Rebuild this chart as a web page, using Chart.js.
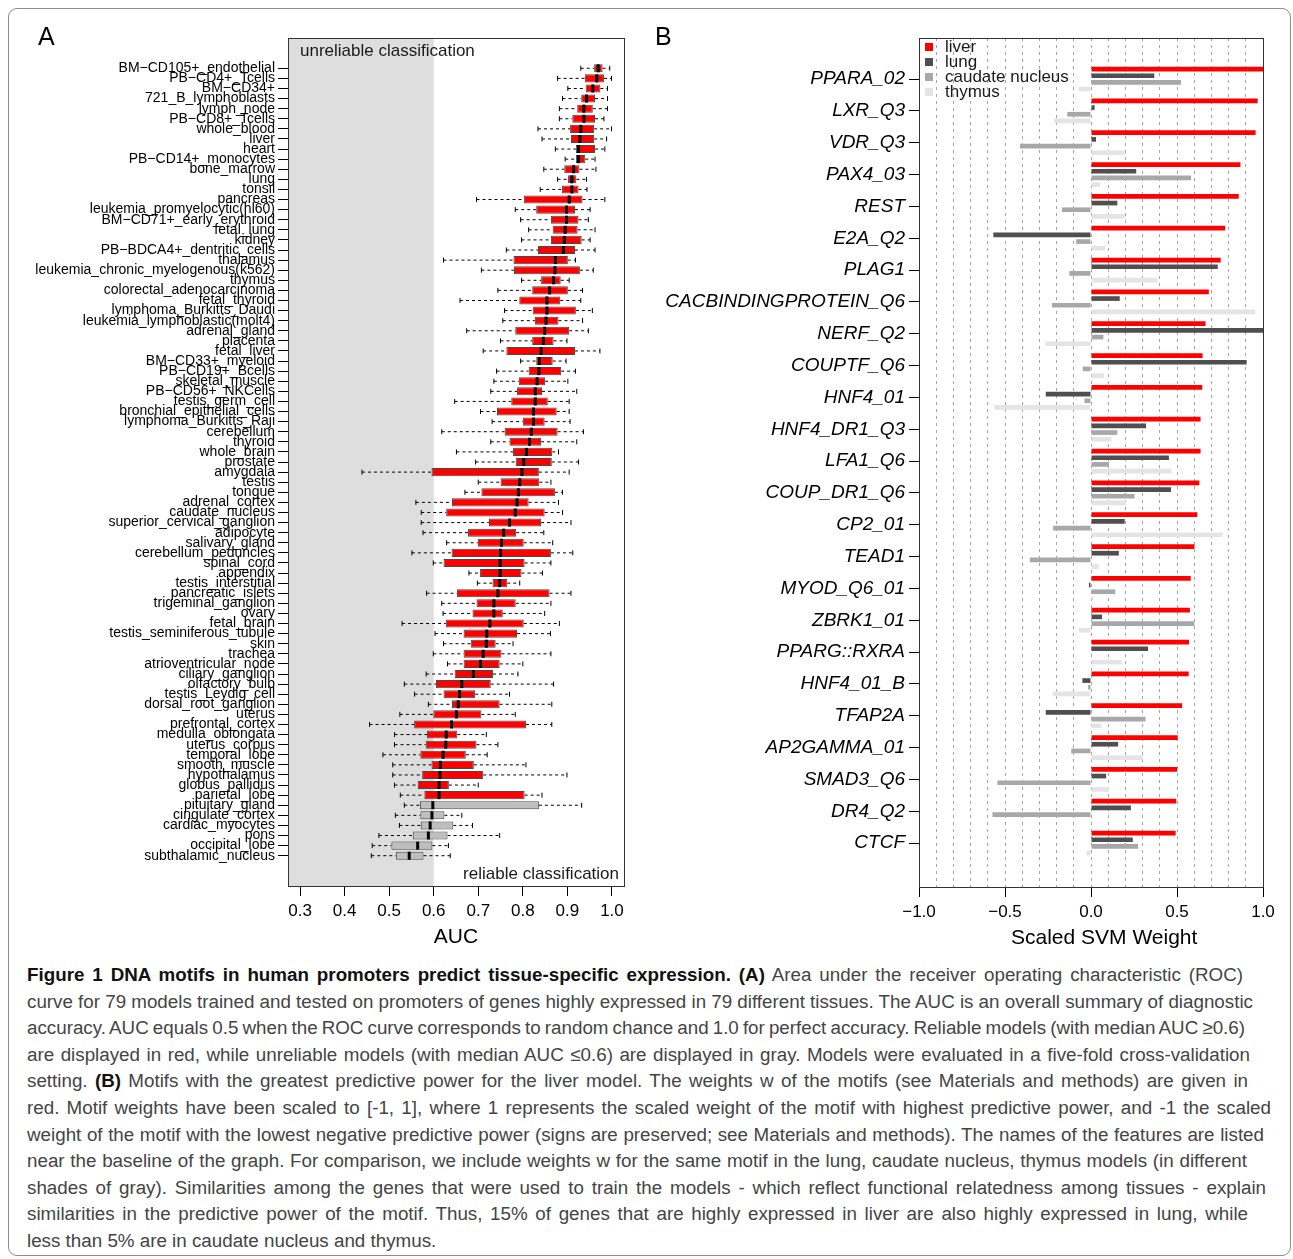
<!DOCTYPE html>
<html>
<head>
<meta charset="utf-8">
<script src="https://cdn.jsdelivr.net/npm/chart.js@4.4.0/dist/chart.umd.min.js"></script>
<style>
  body { margin: 0; background: #fff; width: 1293px; height: 1259px; position: relative; overflow: hidden;
         font-family: "Liberation Sans", Arial, sans-serif; }
  .frame { position: absolute; left: 8px; top: 8px; width: 1283px; height: 1248px; border: 1px solid #8c8c8c;
           border-radius: 9px; box-sizing: border-box; }
  .panel { position: absolute; top: 0; width: 640px; height: 950px; }
  #boxWrap { left: 0; }
  #barWrap { left: 650px; }
  .tag { position: absolute; font-size: 25px; color: #000; }
  .xtitle { position: absolute; font-size: 21px; color: #000; white-space: nowrap; }
  .caption { position: absolute; left: 27px; top: 962px; font-family: "Liberation Sans", Arial, sans-serif;
             font-size: 18.8px; line-height: 26.6px; color: #444; }
  .caption div { white-space: nowrap; }
  .caption span.line { display: inline-block; }
  .caption b { color: #111; }
</style>
</head>
<body>
<div class="frame"></div>
<div class="panel" id="boxWrap"><canvas id="auc-chart"></canvas></div>
<div class="panel" id="barWrap"><canvas id="svm-chart"></canvas></div>
<div class="tag" style="left:38px; top:22px;">A</div>
<div class="tag" style="left:655px; top:22px;">B</div>
<div class="xtitle" style="left:1011px; top:925px;">Scaled SVM Weight</div>
<div class="caption" id="caption">
  <div><span class="line" data-right="1243"><b>Figure 1 DNA motifs in human promoters predict tissue-specific expression. (A)</b> Area under the receiver operating characteristic (ROC)</span></div>
  <div><span class="line" data-right="1253">curve for 79 models trained and tested on promoters of genes highly expressed in 79 different tissues. The AUC is an overall summary of diagnostic</span></div>
  <div><span class="line" data-right="1245">accuracy. AUC equals 0.5 when the ROC curve corresponds to random chance and 1.0 for perfect accuracy. Reliable models (with median AUC ≥0.6)</span></div>
  <div><span class="line" data-right="1250">are displayed in red, while unreliable models (with median AUC ≤0.6) are displayed in gray. Models were evaluated in a five-fold cross-validation</span></div>
  <div><span class="line" data-right="1248">setting. <b>(B)</b> Motifs with the greatest predictive power for the liver model. The weights w of the motifs (see Materials and methods) are given in</span></div>
  <div><span class="line" data-right="1271">red. Motif weights have been scaled to [-1, 1], where 1 represents the scaled weight of the motif with highest predictive power, and -1 the scaled</span></div>
  <div><span class="line" data-right="1264">weight of the motif with the lowest negative predictive power (signs are preserved; see Materials and methods). The names of the features are listed</span></div>
  <div><span class="line" data-right="1247">near the baseline of the graph. For comparison, we include weights w for the same motif in the lung, caudate nucleus, thymus models (in different</span></div>
  <div><span class="line" data-right="1266">shades of gray). Similarities among the genes that were used to train the models - which reflect functional relatedness among tissues - explain</span></div>
  <div><span class="line" data-right="1248">similarities in the predictive power of the motif. Thus, 15% of genes that are highly expressed in liver are also highly expressed in lung, while</span></div>
  <div><span class="line">less than 5% are in caudate nucleus and thymus.</span></div>
</div>
<script>
// panel A: AUC per tissue model (five-fold CV boxplots)
const tissues = [
  'BM−CD105+_endothelial', 'PB−CD4+_Tcells', 'BM−CD34+', '721_B_lymphoblasts', 'lymph_node',
  'PB−CD8+_Tcells', 'whole_blood', 'liver', 'heart', 'PB−CD14+_monocytes',
  'bone_marrow', 'lung', 'tonsil', 'pancreas', 'leukemia_promyelocytic(hl60)',
  'BM−CD71+_early_erythroid', 'fetal_lung', 'kidney', 'PB−BDCA4+_dentritic_cells', 'thalamus',
  'leukemia_chronic_myelogenous(k562)', 'thymus', 'colorectal_adenocarcinoma', 'fetal_thyroid', 'lymphoma_Burkitts_Daudi',
  'leukemia_lymphoblastic(molt4)', 'adrenal_gland', 'placenta', 'fetal_liver', 'BM−CD33+_myeloid',
  'PB−CD19+_Bcells', 'skeletal_muscle', 'PB−CD56+_NKCells', 'testis_germ_cell', 'bronchial_epithelial_cells',
  'lymphoma_Burkitts_Raji', 'cerebellum', 'thyroid', 'whole_brain', 'prostate',
  'amygdala', 'testis', 'tongue', 'adrenal_cortex', 'caudate_nucleus',
  'superior_cervical_ganglion', 'adipocyte', 'salivary_gland', 'cerebellum_peduncles', 'spinal_cord',
  'appendix', 'testis_interstitial', 'pancreatic_islets', 'trigeminal_ganglion', 'ovary',
  'fetal_brain', 'testis_seminiferous_tubule', 'skin', 'trachea', 'atrioventricular_node',
  'ciliary_ganglion', 'olfactory_bulb', 'testis_Leydig_cell', 'dorsal_root_ganglion', 'uterus',
  'prefrontal_cortex', 'medulla_oblongata', 'uterus_corpus', 'temporal_lobe', 'smooth_muscle',
  'hypothalamus', 'globus_pallidus', 'parietal_lobe', 'pituitary_gland', 'cingulate_cortex',
  'cardiac_myocytes', 'pons', 'occipital_lobe', 'subthalamic_nucleus'
];
const aucMin = [
  0.930, 0.878, 0.901, 0.889, 0.882, 0.882, 0.834, 0.843, 0.873, 0.895,
  0.847, 0.878, 0.839, 0.696, 0.783, 0.795, 0.813, 0.797, 0.763, 0.622,
  0.707, 0.797, 0.744, 0.659, 0.759, 0.755, 0.674, 0.750, 0.711, 0.795,
  0.741, 0.735, 0.728, 0.647, 0.705, 0.731, 0.618, 0.728, 0.651, 0.694,
  0.439, 0.700, 0.670, 0.560, 0.572, 0.572, 0.576, 0.629, 0.551, 0.599,
  0.679, 0.698, 0.584, 0.618, 0.621, 0.529, 0.603, 0.622, 0.599, 0.631,
  0.583, 0.534, 0.557, 0.588, 0.524, 0.456, 0.512, 0.512, 0.486, 0.508,
  0.508, 0.512, 0.525, 0.534, 0.514, 0.523, 0.477, 0.462, 0.460
];
const aucQ1 = [
  0.960, 0.939, 0.941, 0.931, 0.922, 0.911, 0.906, 0.908, 0.919, 0.919,
  0.893, 0.901, 0.888, 0.802, 0.830, 0.863, 0.867, 0.863, 0.834, 0.779,
  0.780, 0.841, 0.821, 0.792, 0.822, 0.827, 0.783, 0.821, 0.763, 0.830,
  0.813, 0.791, 0.787, 0.774, 0.742, 0.800, 0.759, 0.770, 0.778, 0.784,
  0.595, 0.750, 0.707, 0.641, 0.628, 0.724, 0.677, 0.699, 0.640, 0.622,
  0.704, 0.732, 0.652, 0.696, 0.687, 0.627, 0.667, 0.683, 0.667, 0.667,
  0.647, 0.605, 0.622, 0.641, 0.599, 0.556, 0.585, 0.582, 0.570, 0.595,
  0.574, 0.564, 0.579, 0.569, 0.570, 0.571, 0.553, 0.505, 0.515
];
const aucMedian = [
  0.969, 0.966, 0.957, 0.943, 0.937, 0.937, 0.930, 0.928, 0.925, 0.925,
  0.914, 0.910, 0.910, 0.904, 0.898, 0.898, 0.895, 0.893, 0.891, 0.873,
  0.872, 0.869, 0.860, 0.854, 0.854, 0.852, 0.849, 0.846, 0.841, 0.837,
  0.836, 0.832, 0.828, 0.828, 0.824, 0.824, 0.819, 0.815, 0.808, 0.802,
  0.798, 0.793, 0.790, 0.787, 0.783, 0.770, 0.757, 0.752, 0.750, 0.749,
  0.749, 0.748, 0.744, 0.735, 0.735, 0.726, 0.719, 0.718, 0.711, 0.705,
  0.689, 0.663, 0.658, 0.655, 0.651, 0.640, 0.628, 0.627, 0.621, 0.615,
  0.614, 0.612, 0.612, 0.598, 0.596, 0.592, 0.588, 0.564, 0.545
];
const aucQ3 = [
  0.979, 0.982, 0.974, 0.962, 0.957, 0.962, 0.960, 0.960, 0.962, 0.940,
  0.927, 0.920, 0.925, 0.934, 0.917, 0.925, 0.923, 0.932, 0.917, 0.901,
  0.928, 0.885, 0.901, 0.884, 0.919, 0.880, 0.904, 0.869, 0.917, 0.867,
  0.886, 0.850, 0.843, 0.856, 0.876, 0.849, 0.878, 0.841, 0.866, 0.865,
  0.836, 0.837, 0.872, 0.813, 0.849, 0.841, 0.785, 0.802, 0.863, 0.804,
  0.797, 0.765, 0.860, 0.784, 0.755, 0.802, 0.787, 0.739, 0.752, 0.748,
  0.733, 0.728, 0.693, 0.748, 0.707, 0.807, 0.653, 0.696, 0.672, 0.690,
  0.711, 0.634, 0.804, 0.836, 0.624, 0.644, 0.631, 0.597, 0.577
];
const aucMax = [
  0.995, 0.999, 0.990, 0.990, 0.990, 0.982, 0.999, 0.988, 0.984, 0.962,
  0.964, 0.943, 0.944, 0.984, 0.951, 0.947, 0.962, 0.951, 0.962, 0.918,
  0.958, 0.904, 0.934, 0.930, 0.956, 0.934, 0.947, 0.899, 0.973, 0.897,
  0.918, 0.901, 0.921, 0.904, 0.904, 0.906, 0.936, 0.921, 0.880, 0.925,
  0.904, 0.863, 0.889, 0.880, 0.889, 0.908, 0.847, 0.867, 0.912, 0.863,
  0.844, 0.793, 0.908, 0.863, 0.849, 0.882, 0.862, 0.778, 0.863, 0.800,
  0.789, 0.869, 0.770, 0.865, 0.783, 0.865, 0.718, 0.744, 0.720, 0.807,
  0.899, 0.700, 0.843, 0.932, 0.663, 0.687, 0.748, 0.633, 0.637
];
const aucTicks = [0.3, 0.4, 0.5, 0.6, 0.7, 0.8, 0.9, 1.0];
const reliableCut = 0.6;

// panel B: scaled SVM weights of top liver motifs
const motifs = [
  'PPARA_02', 'LXR_Q3', 'VDR_Q3', 'PAX4_03', 'REST', 'E2A_Q2', 'PLAG1', 'CACBINDINGPROTEIN_Q6',
  'NERF_Q2', 'COUPTF_Q6', 'HNF4_01', 'HNF4_DR1_Q3', 'LFA1_Q6', 'COUP_DR1_Q6', 'CP2_01', 'TEAD1',
  'MYOD_Q6_01', 'ZBRK1_01', 'PPARG::RXRA', 'HNF4_01_B', 'TFAP2A', 'AP2GAMMA_01', 'SMAD3_Q6', 'DR4_Q2', 'CTCF'
];
const liverWeight = [
  1.000, 0.969, 0.957, 0.869, 0.859, 0.780, 0.754, 0.685, 0.666, 0.649, 0.647, 0.637, 0.637,
  0.630, 0.618, 0.601, 0.580, 0.575, 0.570, 0.568, 0.530, 0.504, 0.501, 0.496, 0.492
];
const lungWeight = [
  0.368, 0.021, 0.029, 0.263, 0.153, -0.568, 0.737, 0.167, 1.000, 0.905, -0.263, 0.320, 0.453,
  0.465, 0.196, 0.162, -0.012, 0.064, 0.332, -0.050, -0.263, 0.158, 0.088, 0.232, 0.243
];
const caudateWeight = [
  0.523, -0.138, -0.413, 0.582, -0.169, -0.086, -0.126, -0.227, 0.072, -0.048, -0.038, 0.153, 0.105,
  0.253, -0.220, -0.356, 0.141, 0.601, 0.000, -0.017, 0.317, -0.115, -0.544, -0.573, 0.274
];
const thymusWeight = [
  -0.072, -0.215, 0.196, 0.053, 0.196, 0.081, 0.387, 0.955, -0.265, 0.076, -0.561, 0.119, 0.468,
  0.203, 0.766, 0.045, 0.014, -0.072, 0.179, -0.222, 0.060, 0.301, 0.105, 0.000, -0.026
];
const svmTicks = [-1.0, -0.5, 0.0, 0.5, 1.0];

Chart.defaults.font.family = '"Liberation Sans", Arial, sans-serif';
Chart.defaults.color = '#000';
Chart.defaults.animation = false;

const FONT = '"Liberation Sans", Arial, sans-serif';
const CLEAR = 'rgba(0,0,0,0)';

function near(v, list) {
  return list.some(t => Math.abs(t - v) < 1e-6);
}

// box around the plotting region, like R's bty="o"
const framePlugin = {
  id: 'frame',
  afterDraw(chart) {
    const {ctx, chartArea: a} = chart;
    ctx.save();
    ctx.strokeStyle = '#333';
    ctx.lineWidth = 1;
    ctx.strokeRect(Math.round(a.left) + 0.5, Math.round(a.top) + 0.5,
                   Math.round(a.right - a.left), Math.round(a.bottom - a.top));
    ctx.restore();
  }
};

// grey band for the unreliable region and its two notes
const shadePlugin = {
  id: 'shade',
  beforeDatasetsDraw(chart) {
    const {ctx, chartArea: a, scales: {x}} = chart;
    const edge = x.getPixelForValue(reliableCut);
    ctx.save();
    ctx.fillStyle = '#dedede';
    ctx.fillRect(a.left, a.top, edge - a.left, a.bottom - a.top);
    ctx.fillStyle = '#1a1a1a';
    ctx.font = '17px ' + FONT;
    ctx.textBaseline = 'middle';
    ctx.fillText('unreliable classification', a.left + 12, a.top + 13);
    ctx.textAlign = 'right';
    ctx.fillText('reliable classification', a.right - 5, a.bottom - 12);
    ctx.restore();
  }
};

// legend drawn inside the top-left corner of the plot
const cornerLegend = {
  id: 'cornerLegend',
  afterDatasetsDraw(chart) {
    const {ctx, chartArea: a} = chart;
    ctx.save();
    ctx.font = '17px ' + FONT;
    ctx.textBaseline = 'middle';
    chart.data.datasets.forEach((ds, i) => {
      const y = a.top + 9 + i * 15;
      ctx.fillStyle = ds.backgroundColor;
      ctx.fillRect(a.left + 6, y - 4, 8, 8);
      ctx.fillStyle = '#1a1a1a';
      ctx.fillText(ds.label, a.left + 26, y);
    });
    ctx.restore();
  }
};

function buildAucChart() {
  const rows = tissues.map((_, i) => i);
  const boxes = rows.map(i => ({x: [aucQ1[i], aucQ3[i]], y: i}));
  const boxColors = rows.map(i => aucMedian[i] > reliableCut ? '#ff0000' : '#bebebe');
  const whiskers = [];
  rows.forEach(i => {
    whiskers.push({x: aucMin[i], y: i}, {x: aucQ1[i], y: i}, {x: null, y: null},
                  {x: aucQ3[i], y: i}, {x: aucMax[i], y: i}, {x: null, y: null});
  });
  const caps = [];
  rows.forEach(i => { caps.push({x: aucMin[i], y: i}, {x: aucMax[i], y: i}); });
  const medians = rows.map(i => ({x: aucMedian[i], y: i}));

  const ctx = document.getElementById('auc-chart').getContext('2d');
  return new Chart(ctx, {
    type: 'bar',
    data: {
      datasets: [
        {
          type: 'line', data: whiskers, borderColor: '#000', borderWidth: 1, borderDash: [3, 3],
          pointRadius: 0, spanGaps: false, order: 3
        },
        {
          type: 'bar', indexAxis: 'y', data: boxes, backgroundColor: boxColors, borderColor: '#4a4a4a',
          borderWidth: 1, borderSkipped: false, barPercentage: 0.8, categoryPercentage: 1, order: 2
        },
        {
          type: 'scatter', data: caps, pointStyle: 'line', rotation: 90, pointRadius: 2.5,
          borderColor: '#000', pointBorderWidth: 1, order: 1
        },
        {
          type: 'scatter', data: medians, pointStyle: 'line', rotation: 90, pointRadius: 4,
          borderColor: '#000', pointBorderWidth: 3, order: 0
        }
      ]
    },
    options: {
      indexAxis: 'y',
      responsive: true,
      maintainAspectRatio: false,
      layout: { padding: { left: 0, right: 16, top: 38, bottom: 0 } },
      plugins: { legend: { display: false }, tooltip: { enabled: false } },
      scales: {
        x: {
          type: 'linear', min: 0.273, max: 1.027, offset: false,
          afterBuildTicks: s => { s.ticks = aucTicks.map(v => ({value: v})); },
          afterFit: s => { s.height = 64; },
          border: { display: false },
          grid: { offset: false, drawOnChartArea: false, tickLength: 10, tickColor: '#000', tickWidth: 1 },
          ticks: {
            autoSkip: false, maxRotation: 0, minRotation: 0,
            padding: 5, font: { size: 17 }, color: '#000',
            callback: v => v.toFixed(1)
          },
          title: { display: true, text: 'AUC', font: { size: 21 }, padding: { top: 0, bottom: 0 }, color: '#000' }
        },
        y: {
          type: 'linear', min: -3, max: tissues.length + 2, reverse: true, offset: false,
          afterFit: s => { s.width = 288; },
          border: { display: false },
          grid: {
            offset: false, drawOnChartArea: false, tickLength: 10, tickWidth: 1,
            tickColor: c => (c.tick && c.tick.value >= 0 && c.tick.value < tissues.length) ? '#000' : CLEAR
          },
          ticks: {
            stepSize: 1, maxTicksLimit: 200, autoSkip: false, includeBounds: false, padding: 3,
            font: { size: 14 }, color: '#000',
            callback: v => (Number.isInteger(v) && v >= 0 && v < tissues.length) ? tissues[v] : ''
          }
        }
      }
    },
    plugins: [shadePlugin, framePlugin]
  });
}

function buildSvmChart() {
  const series = [
    {label: 'liver', values: liverWeight, color: '#ff0000'},
    {label: 'lung', values: lungWeight, color: '#4f4f4f'},
    {label: 'caudate nucleus', values: caudateWeight, color: '#a8a8a8'},
    {label: 'thymus', values: thymusWeight, color: '#e4e4e4'}
  ];
  const ctx = document.getElementById('svm-chart').getContext('2d');
  return new Chart(ctx, {
    type: 'bar',
    data: {
      datasets: series.map(s => ({
        label: s.label,
        indexAxis: 'y',
        data: s.values.map((v, i) => ({x: v, y: i})),
        backgroundColor: s.color,
        borderWidth: 0,
        barPercentage: 0.7,
        categoryPercentage: 0.84
      }))
    },
    options: {
      indexAxis: 'y',
      responsive: true,
      maintainAspectRatio: false,
      layout: { padding: { left: 0, right: 27, top: 38, bottom: 0 } },
      plugins: { legend: { display: false }, tooltip: { enabled: false } },
      scales: {
        x: {
          type: 'linear', min: -1, max: 1, bounds: 'data', offset: false,
          afterFit: s => { s.height = 63; },
          border: { display: false, dash: [3, 4] },
          grid: {
            offset: false, drawOnChartArea: true, tickLength: 10, tickWidth: 1, tickBorderDash: [],
            color: c => (c.tick && Math.abs(Math.abs(c.tick.value) - 1) > 1e-6) ? '#a6a6a6' : CLEAR,
            tickColor: c => (c.tick && near(c.tick.value, svmTicks)) ? '#000' : CLEAR
          },
          ticks: {
            stepSize: 0.1, includeBounds: false, autoSkip: false, maxRotation: 0, minRotation: 0,
            padding: 5, font: { size: 17 }, color: '#000',
            callback: v => near(v, svmTicks) ? (v < -1e-9 ? '\u2212' + Math.abs(v).toFixed(1) : Math.abs(v).toFixed(1)) : ''
          }
        },
        y: {
          type: 'linear', min: -1.29, max: motifs.length - 1 + 1.38, reverse: true, offset: false,
          afterFit: s => { s.width = 269; },
          border: { display: false },
          grid: {
            offset: false, drawOnChartArea: false, tickLength: 10, tickWidth: 1,
            tickColor: c => (c.tick && c.tick.value >= 0 && c.tick.value < motifs.length) ? '#000' : CLEAR
          },
          ticks: {
            stepSize: 1, maxTicksLimit: 200, autoSkip: false, includeBounds: false, padding: 4,
            font: { size: 19, style: 'italic' }, color: '#000',
            callback: v => (Number.isInteger(v) && v >= 0 && v < motifs.length) ? motifs[v] : ''
          }
        }
      }
    },
    plugins: [cornerLegend, framePlugin]
  });
}

// stretch the word gaps so each caption line ends where the printed one does
function fitCaption() {
  document.querySelectorAll('#caption span.line[data-right]').forEach(el => {
    const target = parseFloat(el.dataset.right);
    const natural = el.getBoundingClientRect().right;
    const gaps = (el.textContent.trim().match(/ /g) || []).length;
    if (gaps > 0) {
      el.style.wordSpacing = ((target - natural) / gaps).toFixed(3) + 'px';
    }
  });
}

buildAucChart();
buildSvmChart();
fitCaption();
</script>
</body>
</html>
